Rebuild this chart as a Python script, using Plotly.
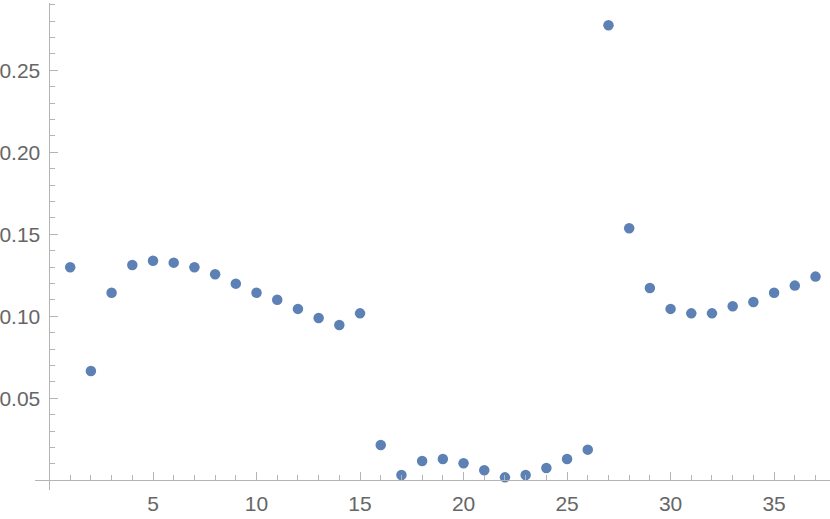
import plotly.graph_objects as go

# data
x_vals = list(range(1, 38))
y_vals = [0.1299, 0.0666, 0.1144, 0.1313, 0.1339, 0.1327, 0.1299, 0.1256, 0.1199, 0.1144,
          0.1101, 0.1045, 0.0990, 0.0947, 0.1018, 0.0215, 0.0032, 0.0118, 0.0130, 0.0104,
          0.0061, 0.0018, 0.0032, 0.0075, 0.0130, 0.0187, 0.2774, 0.1537, 0.1173, 0.1045,
          0.1018, 0.1018, 0.1061, 0.1087, 0.1144, 0.1187, 0.1242]

x_ticks = [5, 10, 15, 20, 25, 30, 35]
y_ticks = [0.05, 0.10, 0.15, 0.20, 0.25]
y_labels = ["0.05", "0.10", "0.15", "0.20", "0.25"]

x_range = [-0.7, 37.7]
y_range = [-0.0059, 0.2910]

x_minor = [v for v in range(1, 38) if v % 5]
y_minor = [round(k * 0.01, 2) for k in range(1, 30) if k % 5]

axis_col = "#b4b4b4"
label_col = "#666666"

fig = go.Figure()
fig.add_trace(go.Scatter(
    x=x_vals, y=y_vals, mode="markers",
    marker=dict(color="#5e81b5", size=10.5, line=dict(width=0)),
    showlegend=False
))

common = dict(
    showgrid=False, zeroline=False, showline=True, linecolor=axis_col, linewidth=1,
    ticks="inside", ticklen=8, tickwidth=1, tickcolor=axis_col,
    tickfont=dict(family="Liberation Sans", size=21, color=label_col),
    automargin=False, anchor="free",
)

fig.update_layout(
    width=830, height=519,
    margin=dict(l=35, r=0, t=3, b=29),
    paper_bgcolor="white", plot_bgcolor="white",
    xaxis=dict(
        range=x_range, tickvals=x_ticks,
        position=(0 - y_range[0]) / (y_range[1] - y_range[0]),
        ticklabelstandoff=4,
        minor=dict(ticks="inside", ticklen=5, tickcolor=axis_col, tickvals=x_minor),
        **common
    ),
    yaxis=dict(
        range=y_range, tickvals=y_ticks, ticktext=y_labels,
        position=(0 - x_range[0]) / (x_range[1] - x_range[0]),
        ticklabelstandoff=5,
        minor=dict(ticks="inside", ticklen=5, tickcolor=axis_col, tickvals=y_minor),
        **common
    ),
)

# drop the default 8px body margin so the figure fills the window
fig.write_html("out.html", config={"displayModeBar": False},
               post_script="document.body.style.margin='0';document.body.style.overflow='hidden';")
